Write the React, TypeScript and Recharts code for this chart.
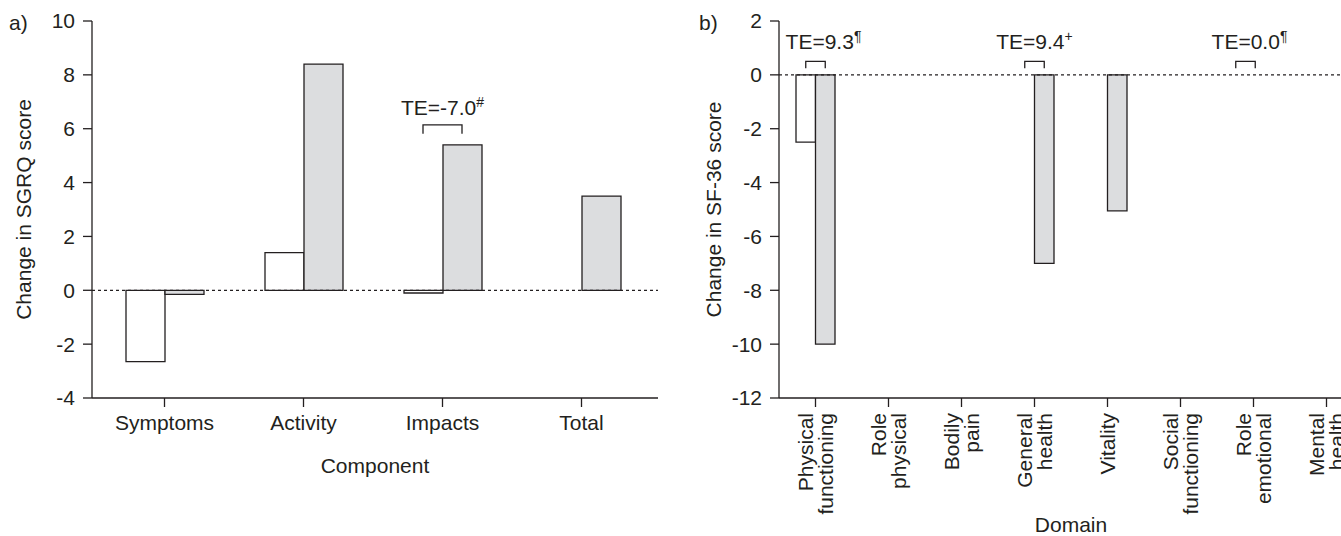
import React from 'react';
import { BarChart, Bar, XAxis, YAxis, ReferenceLine, ReferenceDot } from 'recharts';

// Panel a – SGRQ components
const sgrqComponents = ['Symptoms', 'Activity', 'Impacts', 'Total'];
const sgrqWhite = [-2.65, 1.4, -0.1, 0];
const sgrqGrey = [-0.15, 8.4, 5.4, 3.5];
const sgrqTicks = [-4, -2, 0, 2, 4, 6, 8, 10];
const sgrqNotes = [null, null, { text: 'TE=-7.0', sup: '#' }, null];

// Panel b – SF-36 domains
const sf36Domains = [
  'Physical functioning',
  'Role physical',
  'Bodily pain',
  'General health',
  'Vitality',
  'Social functioning',
  'Role emotional',
  'Mental health',
];
const sf36White = [-2.5, 0, 0, 0, 0, 0, 0, 0];
const sf36Grey = [-10, 0, 0, -7.0, -5.05, 0, 0, 0];
const sf36Ticks = [-12, -10, -8, -6, -4, -2, 0, 2];
const sf36Notes = [
  { text: 'TE=9.3', sup: '¶' },
  null,
  null,
  { text: 'TE=9.4', sup: '+' },
  null,
  null,
  { text: 'TE=0.0', sup: '¶' },
  null,
];

const INK = '#231f20';
const GREY = '#dcdddf';
const FONT = '"Liberation Sans", Arial, Helvetica, sans-serif';
const FS = 21;

const sgrqData = sgrqComponents.map((name, i) => ({ name, white: sgrqWhite[i], grey: sgrqGrey[i] }));
const sf36Data = sf36Domains.map((name, i) => ({ name, white: sf36White[i], grey: sf36Grey[i] }));

// small hand-tuned nudges of the annotations (px), by category index
const sf36NoteNudge: Record<number, { bracket: number; text: number }> = {
  0: { bracket: 0, text: 8 },
  6: { bracket: -8, text: 4 },
};

type Gaps = { low: number; high: number; text: number };

// bracket spanning the two bars of a pair, drawn above the pair's top
function bracketShape(note: any, barSize: number, gaps: Gaps, nudge?: { bracket: number; text: number }) {
  return (p: any) => {
    const nb = nudge?.bracket ?? 0;
    const nt = nudge?.text ?? 0;
    const left = p.cx - barSize / 2 + nb;
    const right = p.cx + barSize / 2 + nb;
    const top = p.cy;
    return (
      <g>
        <path
          d={`M${left},${top - gaps.low} V${top - gaps.high} H${right} V${top - gaps.low}`}
          fill="none"
          stroke={INK}
          strokeWidth={1.3}
        />
        <text x={(left + right) / 2 + nt} y={top - gaps.text} textAnchor="middle" fontSize={FS} fill={INK} fontFamily={FONT}>
          {note.text}
          <tspan fontSize={14} dy={-8}>{note.sup}</tspan>
        </text>
      </g>
    );
  };
}

const yTitle = (text: string) => (props: any) => {
  const vb = props.viewBox;
  const cx = vb.x + 23.5;
  const cy = vb.y + vb.height / 2;
  return (
    <text x={cx} y={cy} transform={`rotate(-90, ${cx}, ${cy})`} textAnchor="middle" dominantBaseline="central" fontSize={FS} fill={INK} fontFamily={FONT}>
      {text}
    </text>
  );
};

const xTitle = (text: string, dy: number) => (props: any) => {
  const vb = props.viewBox;
  return (
    <text x={vb.x + vb.width / 2} y={vb.y + dy} textAnchor="middle" fontSize={FS} fill={INK} fontFamily={FONT}>
      {text}
    </text>
  );
};

const DomainTick = (props: any) => {
  const { x, y, payload } = props;
  const words = String(payload.value).split(' ');
  const n = words.length;
  return (
    <g transform={`translate(${x},${y})`}>
      <text transform="rotate(-90)" textAnchor="end" fontSize={FS} fill={INK} fontFamily={FONT}>
        {words.map((w, i) => (
          <tspan key={i} x={0} y={(i - (n - 1) / 2) * 20.5 + 7.4}>
            {w}
          </tspan>
        ))}
      </text>
    </g>
  );
};

const tickStyle = { fontSize: FS, fill: INK, fontFamily: FONT };
const axisStroke = { stroke: INK, strokeWidth: 1.3 };

export default function App() {
  return (
    <div
      style={{
        position: 'fixed',
        left: 0,
        top: 0,
        width: 1341,
        height: 536,
        overflow: 'hidden',
        background: '#fff',
        fontFamily: FONT,
        color: INK,
      }}
    >
      <div style={{ position: 'absolute', left: 9, top: 11, fontSize: FS, lineHeight: '24px' }}>a)</div>
      <div style={{ position: 'absolute', left: 699, top: 11, fontSize: FS, lineHeight: '24px' }}>b)</div>

      <div style={{ position: 'absolute', left: 0, top: 0 }}>
        <BarChart
          width={670}
          height={536}
          data={sgrqData}
          margin={{ top: 21, right: 12, bottom: 0, left: 0 }}
          barGap={0}
          barSize={39}
        >
          <XAxis
            dataKey="name"
            height={138}
            interval={0}
            padding={{ left: 3, right: 7 }}
            tickSize={9}
            tickMargin={8}
            tick={tickStyle}
            axisLine={axisStroke}
            tickLine={axisStroke}
            label={{ content: xTitle('Component', 75) }}
          />
          <YAxis
            type="number"
            domain={[-4, 10]}
            ticks={sgrqTicks}
            interval={0}
            width={92}
            tickSize={9}
            tickMargin={8}
            tick={tickStyle}
            axisLine={axisStroke}
            tickLine={axisStroke}
            label={{ content: yTitle('Change in SGRQ score') }}
          />
          <ReferenceLine y={0} stroke={INK} strokeWidth={1.3} strokeDasharray="3 3" />
          <Bar dataKey="white" fill="#ffffff" stroke={INK} strokeWidth={1.3} isAnimationActive={false} />
          <Bar dataKey="grey" fill={GREY} stroke={INK} strokeWidth={1.3} isAnimationActive={false} />
          {sgrqNotes.map((note, i) =>
            note ? (
              <ReferenceDot
                key={i}
                x={sgrqComponents[i]}
                y={Math.max(0, sgrqWhite[i], sgrqGrey[i])}
                r={1}
                shape={bracketShape(note, 39, { low: 11, high: 20, text: 30 })}
              />
            ) : null
          )}
        </BarChart>
      </div>

      <div style={{ position: 'absolute', left: 690, top: 0 }}>
        <BarChart
          width={700}
          height={536}
          data={sf36Data}
          margin={{ top: 21, right: 27, bottom: 0, left: 0 }}
          barGap={0}
          barSize={19.5}
        >
          <XAxis
            dataKey="name"
            height={138}
            interval={0}
            tickSize={9}
            tickMargin={6}
            tick={<DomainTick />}
            axisLine={axisStroke}
            tickLine={axisStroke}
            label={{ content: xTitle('Domain', 134) }}
          />
          <YAxis
            type="number"
            domain={[-12, 2]}
            ticks={sf36Ticks}
            interval={0}
            width={89}
            tickSize={9}
            tickMargin={8}
            tick={tickStyle}
            axisLine={axisStroke}
            tickLine={axisStroke}
            label={{ content: yTitle('Change in SF-36 score') }}
          />
          <ReferenceLine y={0} stroke={INK} strokeWidth={1.3} strokeDasharray="3 3" />
          <Bar dataKey="white" fill="#ffffff" stroke={INK} strokeWidth={1.3} isAnimationActive={false} />
          <Bar dataKey="grey" fill={GREY} stroke={INK} strokeWidth={1.3} isAnimationActive={false} />
          {sf36Notes.map((note, i) =>
            note ? (
              <ReferenceDot
                key={i}
                x={sf36Domains[i]}
                y={Math.max(0, sf36White[i], sf36Grey[i])}
                r={1}
                shape={bracketShape(note, 19.5, { low: 6.5, high: 13.5, text: 26 }, sf36NoteNudge[i])}
              />
            ) : null
          )}
        </BarChart>
      </div>
    </div>
  );
}
